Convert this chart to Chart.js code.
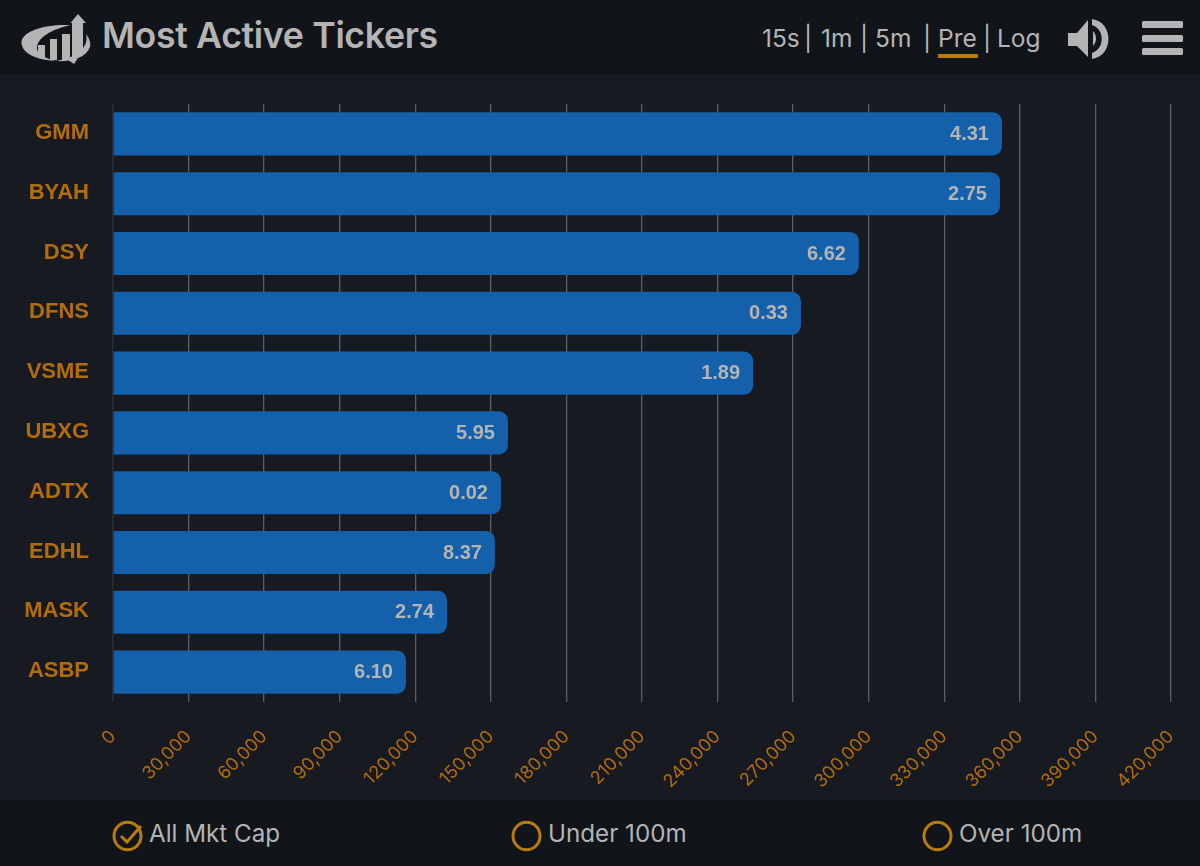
<!DOCTYPE html>
<html><head><meta charset="utf-8">
<script src="https://cdn.jsdelivr.net/npm/chart.js@4"></script>
<style>
html,body{margin:0;padding:0;background:#171a21;width:1200px;height:866px;overflow:hidden}
body{position:relative;font-family:Inter,"Open Sans",sans-serif;color:#b4b4b4}
#hdr{position:absolute;left:0;top:0;width:1200px;height:74px;background:#111419}
#ftr{position:absolute;left:0;top:800px;width:1200px;height:66px;background:#111419}
#wrap{position:absolute;left:0;top:74px;width:1200px;height:726px}
.t{position:absolute;white-space:nowrap}
#title{left:102px;top:12px;font-size:35.7px;font-weight:600;line-height:46px;letter-spacing:-.35px;color:#b4b4b4}
.nav{top:21px;font-size:24.5px;line-height:34px;font-weight:400}
.ft{top:817px;font-size:24.2px;line-height:34px}
#ul{position:absolute;left:938px;top:54px;width:40px;height:4px;background:#b97b0a}
svg{position:absolute;overflow:visible}
</style></head><body>
<div id="hdr"></div><div id="ftr"></div>
<div id="wrap"><canvas id="c" width="1200" height="726"></canvas></div>

<svg style="left:0;top:0" width="110" height="74" viewBox="0 0 110 74" fill="#b4b4b4">
 <path d="M71 25C42 24 21 32 21.500 43C22 53 36 60 56 61C48 59 38 55 37 49C36 38 52 29 71 25z"/>
 <path d="M56 61C70 62 86 58 90 47C91 42 89 38 86 34C88 41 85 49 76 54C70 58 62 60 56 61z"/>
 <path d="M68 60L78 58L74 64z"/>
 <rect x="38" y="45" width="7" height="13"/>
 <rect x="50" y="39" width="7" height="21"/>
 <rect x="62" y="34" width="8" height="26"/>
 <path d="M72 59V23H70.500L78 14L86 23H83V56z"/>
</svg>

<div class="t nav" style="left:762px">15s</div><div class="t nav" style="left:804px">|</div>
<div class="t nav" style="left:821px">1m</div><div class="t nav" style="left:860px">|</div>
<div class="t nav" style="left:875px">5m</div><div class="t nav" style="left:923px">|</div>
<div class="t nav" style="left:938px">Pre</div><div class="t nav" style="left:983px">|</div>
<div class="t nav" style="left:997px">Log</div>
<div id="ul"></div>

<svg style="left:1067px;top:18px" width="44" height="42" viewBox="0 0 44 42" fill="#b4b4b4">
 <path d="M1 15h9L21 2v37L10 28H1z"/>
 <path d="M26 13c4 4 4 11 0 15z"/>
 <path d="M25 1c22 3 22 37 0 40v-6c13-4 13-24 0-28z"/>
</svg>
<svg style="left:1141px;top:20px" width="42" height="36" viewBox="0 0 42 36" fill="#b4b4b4">
 <rect x="1" y="1" width="41" height="7" rx="1.500"/><rect x="1" y="15" width="41" height="7" rx="1.500"/><rect x="1" y="28" width="41" height="7" rx="1.500"/>
</svg>

<svg style="left:112px;top:820px" width="32" height="32" viewBox="0 0 32 32">
 <ellipse cx="15.500" cy="16" rx="13.500" ry="13.800" fill="none" stroke="#b97b0a" stroke-width="3"/>
 <path d="M9 16l6 6L29 6" fill="none" stroke="#b97b0a" stroke-width="3"/>
</svg>
<div class="t ft" style="left:149px">All Mkt Cap</div>
<svg style="left:511px;top:820px" width="32" height="32" viewBox="0 0 32 32"><ellipse cx="15.500" cy="16" rx="13.500" ry="13.800" fill="none" stroke="#b97b0a" stroke-width="3"/></svg>
<div class="t ft" style="left:548px">Under 100m</div>
<svg style="left:922px;top:820px" width="32" height="32" viewBox="0 0 32 32"><ellipse cx="15.500" cy="16" rx="13.500" ry="13.800" fill="none" stroke="#b97b0a" stroke-width="3"/></svg>
<div class="t ft" style="left:959px">Over 100m</div>
<div id="title" class="t">Most Active Tickers</div>

<script>
const tickers = ["GMM","BYAH","DSY","DFNS","VSME","UBXG","ADTX","EDHL","MASK","ASBP"];
const volumes = [352900,352100,296100,273100,254100,156800,154000,151600,132600,116300];
const changes = ["4.31","2.75","6.62","0.33","1.89","5.95","0.02","8.37","2.74","6.10"];
const xMax = 420000, xStep = 30000;

const barValues = {
  id:'barValues',
  beforeDraw(chart){
    const s = chart.scales.y;
    if(!s.$lifted){
      s.getLabelItems(chart.chartArea).forEach(it=>{it.options.translation[1]-=1;});
      s.$lifted = true;
    }
  },
  afterDatasetsDraw(chart){
    const {ctx} = chart;
    chart.getDatasetMeta(0).data.forEach((bar,i)=>{
      ctx.save();
      ctx.font='bold 20px "Liberation Sans"';
      ctx.fillStyle='#b4b4b4';
      ctx.textAlign='right';ctx.textBaseline='middle';
      ctx.fillText(changes[i],bar.x-13,bar.y+0.5);
      ctx.restore();
    });
  }
};

Chart.defaults.animation=false;
new Chart(document.getElementById('c'),{
  type:'bar',
  data:{labels:tickers,datasets:[{data:volumes,backgroundColor:'#1460aa',borderWidth:0,
    borderRadius:{topRight:9,bottomRight:9,topLeft:0,bottomLeft:0},borderSkipped:false,
    barPercentage:0.72,categoryPercentage:1}]},
  options:{
    indexAxis:'y',responsive:false,maintainAspectRatio:false,animation:false,
    layout:{padding:{top:30,right:29,left:0,bottom:0}},
    plugins:{legend:{display:false},tooltip:{enabled:false}},
    scales:{
      x:{min:0,max:xMax,position:'bottom',
        afterFit(s){s.height=98;s.paddingRight=0;s.paddingLeft=0;},
        grid:{drawTicks:false,color:c=>c.index===0?'#2c2f35':'#5c5e62',lineWidth:1.3},
        border:{display:false},
        ticks:{stepSize:xStep,minRotation:45,maxRotation:45,autoSkip:false,padding:24,color:'#b36c0c',
          font:{family:'Inter',size:18},callback:v=>v.toLocaleString('en-US')}},
      y:{afterFit(s){s.width=113;s.paddingTop=0;s.paddingBottom=0;},
        grid:{display:false},border:{display:false},
        ticks:{padding:16,color:'#b36c0c',font:{family:'Liberation Sans',size:22,weight:'bold'}}}
    }
  },
  plugins:[barValues]
});
</script>
</body></html>
